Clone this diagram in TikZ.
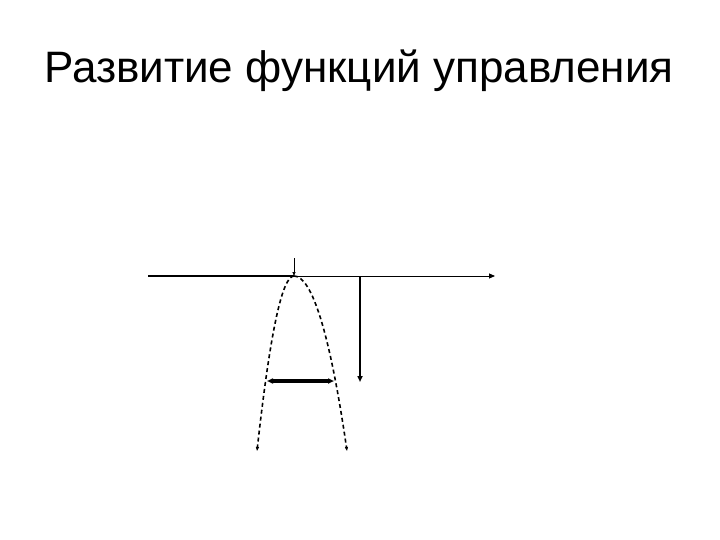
\documentclass[tikz,border=0pt]{standalone}
\usepackage{fontspec}
\setmainfont{Liberation Sans}
\usetikzlibrary{arrows.meta}
\tikzset{
  tip/.style={-{Triangle[length=6pt,width=5pt]}},
  smalltip/.style={-{Triangle[length=4pt,width=3pt]}},
  dashcurve/.style={dashed,dash pattern=on 4pt off 3pt,line width=1.6pt,smalltip}
}
\begin{document}
\begin{tikzpicture}[x=1pt,y=-1pt]
            \useasboundingbox (0,0) rectangle (720,540);
            % Title
            \node[anchor=base west,inner sep=0pt,font=\fontsize{44}{50}\selectfont] (title) at (44,83) {Развитие функций управления};
            % Points on the axis
            \coordinate (start) at (148,276);
            \coordinate (top) at (294,276);
            \coordinate (above) at (294,258);
            \coordinate (drop) at (360,276);
            \coordinate (dropend) at (360,382);
            \coordinate (finish) at (495,276);
            % Axis: thick left part, thin right part
            \draw[line width=2pt] (start) -- (top);
            \draw[line width=1pt,tip] (top) -- (finish);
            \draw[line width=0.7pt,smalltip] (above) -- (top);
            \draw[line width=1.8pt,tip] (drop) -- (dropend);
            % Dashed curve from the top
            \coordinate (leftend) at (257,451);
            \coordinate (rightend) at (347,451);
            \draw[dashcurve] (top) .. controls (282,276) and (270,334) .. (leftend);
            \draw[dashcurve] (top) .. controls (312,276) and (330,334) .. (rightend);
            % Width between the branches
            \coordinate (wl) at (267,381);
            \coordinate (wr) at (334,381);
            \draw[line width=3.2pt,{Triangle[length=6pt,width=5pt]}-{Triangle[length=6pt,width=5pt]}] (wl) -- (wr);
        \end{tikzpicture}
\end{document}
